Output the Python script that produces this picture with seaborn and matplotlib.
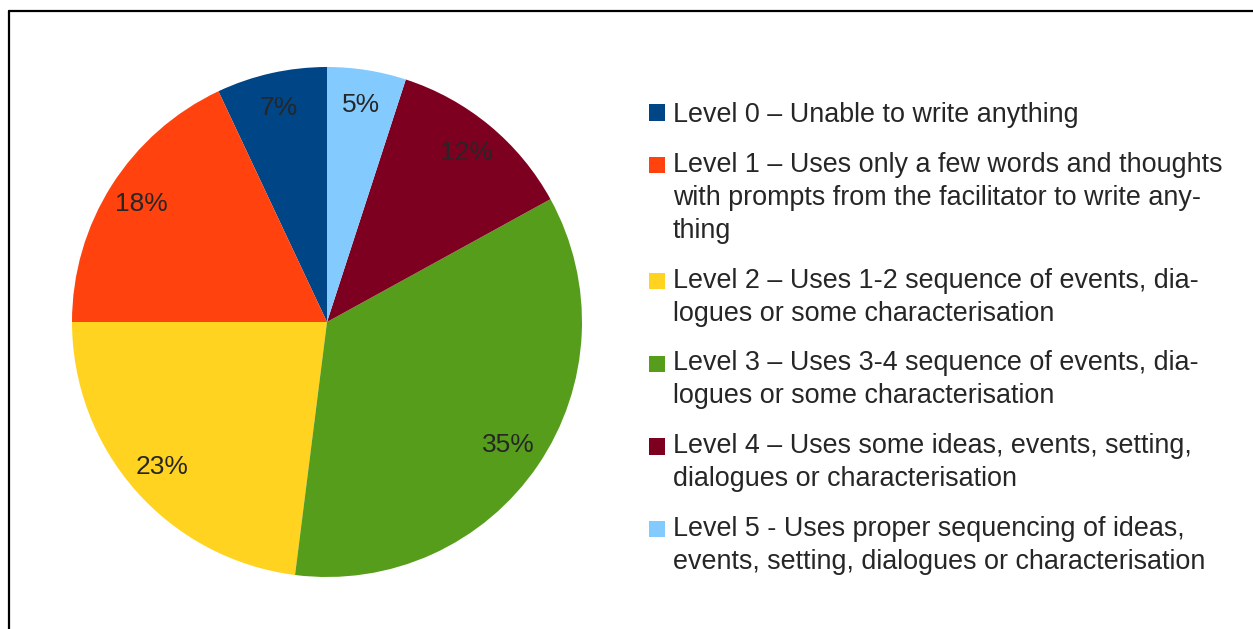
import matplotlib
matplotlib.use("Agg")
import matplotlib.pyplot as plt
from matplotlib.patches import Rectangle
from matplotlib.lines import Line2D
from matplotlib.legend_handler import HandlerPatch
import seaborn as sns

# Writing levels and their share of pupils (%)
levels = [
    "Level 0 \u2013 Unable to write anything",
    "Level 1 \u2013 Uses only a few words and thoughts\nwith prompts from the facilitator to write any-\nthing",
    "Level 2 \u2013 Uses 1-2 sequence of events, dia-\nlogues or some characterisation",
    "Level 3 \u2013 Uses 3-4 sequence of events, dia-\nlogues or some characterisation",
    "Level 4 \u2013 Uses some ideas, events, setting,\ndialogues or characterisation",
    "Level 5 - Uses proper sequencing of ideas,\nevents, setting, dialogues or characterisation",
]
shares = [7, 18, 23, 35, 12, 5]
colors = ["#004586", "#ff420e", "#ffd320", "#579d1c", "#7e0021", "#83caff"]

sns.set_theme(style="white")
plt.rcParams["font.family"] = ["Liberation Sans", "DejaVu Sans"]

TEXT = "#262626"
FS = 19.35
LINESPACING = 1.345

fig = plt.figure(figsize=(12.53, 6.29), dpi=100)
W, H = 1253, 629

# pie axes: square box in pixels centred on the pie
cx, cy, r = 327, 322, 255
ax = fig.add_axes([(cx - r) / W, (H - cy - r) / H, 2 * r / W, 2 * r / H])
wedges, _, autotexts = ax.pie(
    shares,
    colors=colors,
    startangle=90,
    counterclock=True,
    autopct="%d%%",
    pctdistance=0.86,
    radius=1.0,
    wedgeprops=dict(linewidth=0, edgecolor="none"),
    textprops=dict(color=TEXT, fontsize=19),
)
ax.set_xlim(-1, 1)
ax.set_ylim(-1, 1)
ax.set_aspect("equal")
ax.axis("off")


class FirstLineSquare(HandlerPatch):
    """Square legend key aligned with the first line of a wrapped label."""

    def __init__(self, n_lines, **kw):
        super().__init__(**kw)
        self.n_lines = n_lines

    def create_artists(self, legend, orig_handle, xdescent, ydescent,
                       width, height, fontsize, trans):
        side = 0.6 * fontsize
        shift = (self.n_lines - 1) / 2 * (LINESPACING * 0.86 + 0.088) * fontsize
        y0 = -ydescent + (height - side) / 2 + shift
        p = Rectangle((-xdescent, y0), side, side,
                      facecolor=orig_handle.get_facecolor(),
                      edgecolor="none", transform=trans)
        return [p]


leg = fig.legend(
    wedges,
    levels,
    loc="upper left",
    bbox_to_anchor=(649 / W, 1 - 102 / H),
    frameon=False,
    fontsize=FS,
    handlelength=0.6,
    handleheight=0.6,
    handletextpad=0.28,
    labelspacing=0.89,
    borderpad=0,
    borderaxespad=0,
    handler_map={w: FirstLineSquare(lab.count("\n") + 1)
                 for w, lab in zip(wedges, levels)},
)
for t in leg.get_texts():
    t.set_color(TEXT)
    t.set_linespacing(LINESPACING)

# outer frame lines (top and left edges of the chart area)
fig.add_artist(Line2D([8.5 / W, 1.0], [1 - 10.5 / H] * 2,
                      transform=fig.transFigure, color="black", linewidth=1.6))
fig.add_artist(Line2D([8.5 / W] * 2, [0.0, 1 - 10.5 / H],
                      transform=fig.transFigure, color="black", linewidth=1.6))

fig.savefig("out.png", dpi=100)
